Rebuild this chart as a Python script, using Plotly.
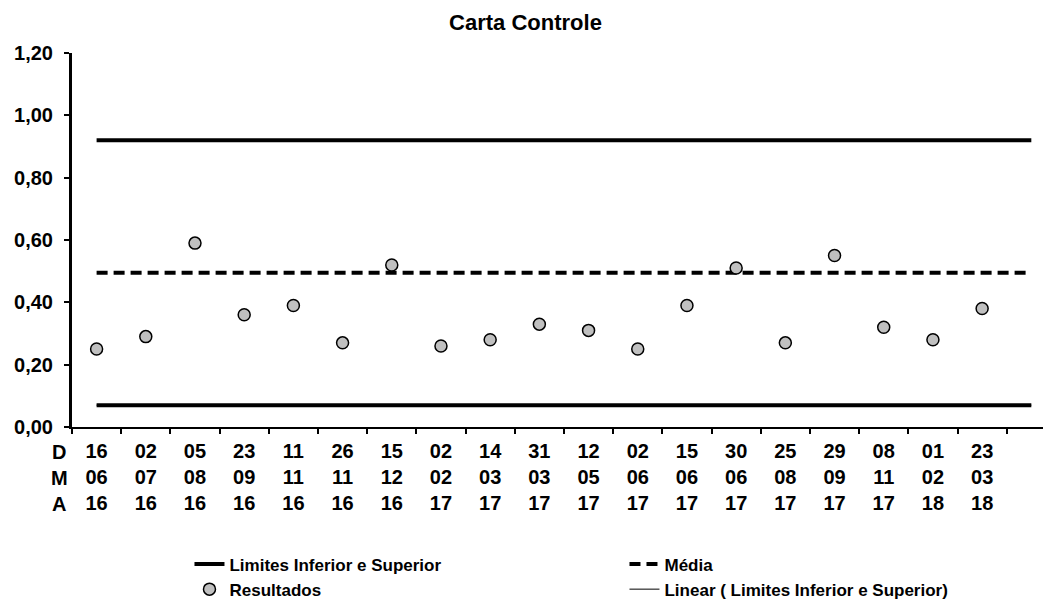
import plotly.graph_objects as go

# ---- data ----
dias = ["16", "02", "05", "23", "11", "26", "15", "02", "14", "31",
        "12", "02", "15", "30", "25", "29", "08", "01", "23"]
meses = ["06", "07", "08", "09", "11", "11", "12", "02", "03", "03",
         "05", "06", "06", "06", "08", "09", "11", "02", "03"]
anos = ["16", "16", "16", "16", "16", "16", "16", "17", "17", "17",
        "17", "17", "17", "17", "17", "17", "17", "18", "18"]
resultados = [0.25, 0.29, 0.59, 0.36, 0.39, 0.27, 0.52, 0.26, 0.28, 0.33,
              0.31, 0.25, 0.39, 0.51, 0.27, 0.55, 0.32, 0.28, 0.38]
limite_superior = 0.92
limite_inferior = 0.07
media = 0.495
y_ticks = [0.0, 0.2, 0.4, 0.6, 0.8, 1.0, 1.2]

# categories: one per date, plus one empty slot at the end
cats = [f"{d}<br>{m}<br>{a}" for d, m, a in zip(dias, meses, anos)] + [" "]
n = len(cats)

FONT = "Arial, Liberation Sans, sans-serif"
OFF = 8  # browser default body margin
W, H = 1051 - OFF, 603 - OFF

fig = go.Figure()

# Linear trendline (thin, lies under the thick limit line)
fig.add_trace(go.Scatter(
    x=cats, y=[limite_inferior] * n, mode="lines",
    line=dict(color="black", width=1),
    name="Linear ( Limites Inferior e Superior)", legendrank=4,
    hoverinfo="skip"))

fig.add_trace(go.Scatter(
    x=cats, y=[limite_superior] * n, mode="lines",
    line=dict(color="black", width=4),
    name="Limites Inferior e Superior", legendgroup="lim", legendrank=1))
fig.add_trace(go.Scatter(
    x=cats, y=[limite_inferior] * n, mode="lines",
    line=dict(color="black", width=4),
    name="Limites Inferior e Superior", legendgroup="lim", showlegend=False))

fig.add_trace(go.Scatter(
    x=cats, y=[media] * n, mode="lines",
    line=dict(color="black", width=4, dash="11px,6px"),
    name="Média", legendrank=2))

fig.add_trace(go.Scatter(
    x=cats[:len(resultados)], y=resultados, mode="markers",
    marker=dict(symbol="circle", size=12, color="#c0c0c0",
                line=dict(color="black", width=1.5)),
    name="Resultados", legendrank=3))

plot_top = 53 - OFF
plot_bottom = 427 - OFF
fig.update_layout(
    width=W, height=H,
    paper_bgcolor="white", plot_bgcolor="white",
    separators=",.",
    font=dict(family=FONT, size=19, color="black", weight="bold"),
    margin=dict(l=72 - OFF, r=0, t=plot_top, b=H - plot_bottom, autoexpand=False),
    title=dict(text="Carta Controle", x=(525.5 - OFF) / W, xref="container",
               y=1 - (22 - OFF) / H, yref="container", yanchor="middle",
               xanchor="center",
               font=dict(family=FONT, size=22, color="black", weight="bold")),
    xaxis=dict(
        type="category", categoryorder="array", categoryarray=cats,
        range=[-0.5, n - 0.6],
        showline=True, linecolor="black", linewidth=2,
        ticks="outside", ticklen=5, tickwidth=2, tickcolor="black",
        tickson="boundaries", showgrid=False, zeroline=False,
        ticklabelstandoff=5,
        tickfont=dict(family=FONT, size=20, color="black", weight="bold"),
        automargin=False, fixedrange=True),
    yaxis=dict(
        range=[0, 1.2], tickvals=y_ticks, tickformat=".2f",
        showline=True, linecolor="black", linewidth=3,
        ticks="outside", ticklen=5, tickwidth=2, tickcolor="black",
        showgrid=False, zeroline=False,
        ticklabelstandoff=7,
        tickfont=dict(family=FONT, size=20, color="black", weight="bold"),
        automargin=False, fixedrange=True),
    legend=dict(
        orientation="h", x=0.12, xanchor="left", y=-0.3195, yanchor="top",
        entrywidth=390, entrywidthmode="pixels",
        font=dict(family=FONT, size=17, color="black", weight="bold"),
        bgcolor="rgba(0,0,0,0)", traceorder="normal"),
    showlegend=True,
)

fig.add_annotation(
    text="D<br>M<br>A", xref="paper", yref="paper",
    x=-0.013, y=0, yshift=-12, xanchor="center", yanchor="top",
    showarrow=False, align="center",
    font=dict(family=FONT, size=20, color="black", weight="bold"))

fig.write_html("out.html")
